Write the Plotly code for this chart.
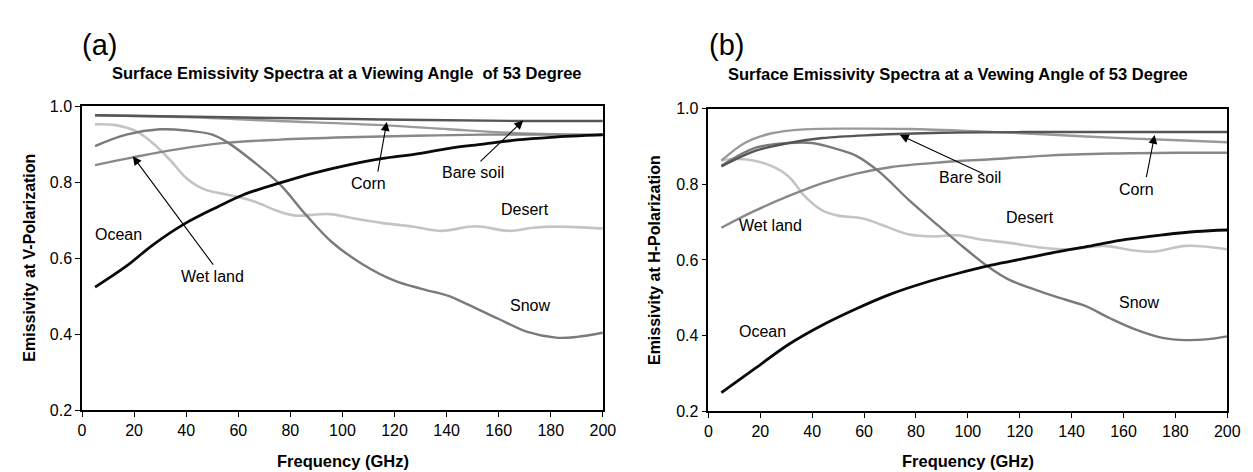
import plotly.graph_objects as go

# ---------------- data ----------------
# Panel (a): V-polarization
ocean_v_f = [5, 17, 27, 39, 52, 62, 76, 89, 102, 115, 128, 141, 154, 167, 180, 200]
ocean_v = [0.524, 0.579, 0.634, 0.689, 0.735, 0.767, 0.798, 0.824, 0.845, 0.862,
           0.874, 0.889, 0.900, 0.911, 0.918, 0.925]
wet_v_f = [5, 20, 37, 56, 76, 102, 128, 154, 200]
wet_v = [0.845, 0.866, 0.887, 0.904, 0.912, 0.918, 0.922, 0.925, 0.925]
bare_v_f = [5, 62, 115, 167, 200]
bare_v = [0.976, 0.970, 0.965, 0.961, 0.961]
corn_v_f = [5, 40, 75, 115, 141, 167, 200]
corn_v = [0.976, 0.971, 0.961, 0.950, 0.939, 0.929, 0.923]
desert_v_f = [5, 13, 21, 27, 34, 40, 47, 56, 65, 76, 82, 95, 104, 115, 128, 138,
              151, 164, 173, 182, 200]
desert_v = [0.952, 0.950, 0.933, 0.904, 0.857, 0.811, 0.781, 0.767, 0.752, 0.722,
            0.712, 0.716, 0.705, 0.693, 0.682, 0.672, 0.684, 0.672, 0.680, 0.683, 0.678]
snow_v_f = [5, 17, 30, 40, 50, 56, 66, 76, 86, 96, 108, 120, 130, 141, 147, 160,
            171, 182, 190, 200]
snow_v = [0.895, 0.925, 0.939, 0.936, 0.925, 0.904, 0.853, 0.794, 0.714, 0.642,
          0.583, 0.541, 0.520, 0.500, 0.482, 0.440, 0.406, 0.391, 0.393, 0.404]

# Panel (b): H-polarization
ocean_h_f = [5, 18, 31, 44, 57, 70, 83, 96, 109, 122, 135, 148, 161, 175, 188, 200]
ocean_h = [0.249, 0.313, 0.377, 0.428, 0.471, 0.509, 0.539, 0.564, 0.586, 0.604,
           0.622, 0.638, 0.654, 0.666, 0.675, 0.679]
wet_h_f = [5, 18, 31, 44, 57, 70, 90, 109, 129, 155, 181, 200]
wet_h = [0.685, 0.730, 0.769, 0.803, 0.828, 0.845, 0.858, 0.866, 0.875, 0.881, 0.883, 0.883]
bare_h_f = [5, 18, 31, 44, 63, 90, 129, 200]
bare_h = [0.847, 0.888, 0.909, 0.922, 0.930, 0.936, 0.938, 0.938]
corn_h_f = [5, 14, 24, 37, 57, 77, 103, 129, 155, 181, 200]
corn_h = [0.862, 0.909, 0.934, 0.945, 0.947, 0.946, 0.940, 0.932, 0.923, 0.916, 0.911]
desert_h_f = [5, 14, 24, 31, 37, 44, 50, 60, 67, 77, 87, 96, 105, 116, 129, 139,
              152, 165, 172, 184, 200]
desert_h = [0.864, 0.866, 0.849, 0.820, 0.769, 0.730, 0.717, 0.709, 0.692, 0.668,
            0.662, 0.665, 0.654, 0.645, 0.632, 0.628, 0.637, 0.624, 0.622, 0.637, 0.628]
snow_h_f = [5, 18, 31, 40, 50, 57, 66, 77, 87, 97, 108, 116, 124, 135, 145, 155,
            165, 175, 184, 192, 200]
snow_h = [0.849, 0.896, 0.909, 0.909, 0.892, 0.875, 0.832, 0.760, 0.700, 0.641,
          0.581, 0.547, 0.526, 0.500, 0.479, 0.445, 0.415, 0.394, 0.388, 0.390, 0.398]

x_ticks = [0, 20, 40, 60, 80, 100, 120, 140, 160, 180, 200]
y_ticks = [0.2, 0.4, 0.6, 0.8, 1.0]
y_ticklabels = ["0.2", "0.4", "0.6", "0.8", "1.0"]

title_a = "Surface Emissivity Spectra at a Viewing Angle&nbsp; of 53 Degree"
title_b = "Surface Emissivity Spectra at a Vewing Angle of 53 Degree"

# ---------------- figure ----------------
W, H = 1253, 472
FONT = "Liberation Sans, Arial, sans-serif"

def px_x(p):
    return p / W

def px_y(p):
    return 1 - p / H

fig = go.Figure()

styles = {
    "ocean": dict(color="#0a0a0a", width=2.8),
    "bare": dict(color="#555555", width=2.4),
    "corn": dict(color="#9a9a9a", width=2.4),
    "wet": dict(color="#888888", width=2.4),
    "snow": dict(color="#7a7a7a", width=2.4),
    "desert": dict(color="#c4c4c4", width=2.6),
}

series_a = [("desert", desert_v_f, desert_v), ("corn", corn_v_f, corn_v),
            ("wet", wet_v_f, wet_v), ("snow", snow_v_f, snow_v),
            ("bare", bare_v_f, bare_v), ("ocean", ocean_v_f, ocean_v)]
series_b = [("desert", desert_h_f, desert_h), ("corn", corn_h_f, corn_h),
            ("wet", wet_h_f, wet_h), ("snow", snow_h_f, snow_h),
            ("bare", bare_h_f, bare_h), ("ocean", ocean_h_f, ocean_h)]

for name, fx, fy in series_a:
    fig.add_trace(go.Scatter(x=fx, y=fy, mode="lines", name=name, showlegend=False,
                             line=dict(shape="spline", smoothing=1.0, **styles[name]),
                             xaxis="x", yaxis="y"))
for name, fx, fy in series_b:
    fig.add_trace(go.Scatter(x=fx, y=fy, mode="lines", name=name, showlegend=False,
                             line=dict(shape="spline", smoothing=1.0, **styles[name]),
                             xaxis="x2", yaxis="y2"))

axis_common = dict(showline=True, linecolor="black", linewidth=1.5, mirror=True,
                   ticks="outside", ticklen=5, tickwidth=1.2, tickcolor="black",
                   showgrid=False, zeroline=False,
                   tickfont=dict(family=FONT, size=16, color="black"))

fig.update_layout(
    width=W, height=H,
    margin=dict(l=0, r=0, t=0, b=0),
    paper_bgcolor="white", plot_bgcolor="white",
    xaxis=dict(domain=[px_x(71), px_x(599)], range=[0, 200], tickvals=x_ticks,
               anchor="y", **axis_common),
    yaxis=dict(domain=[px_y(409), px_y(93.5)], range=[0.2, 1.0], tickvals=y_ticks,
               ticktext=y_ticklabels, anchor="x", **axis_common),
    xaxis2=dict(domain=[px_x(706), px_x(1232)], range=[0, 200], tickvals=x_ticks,
                anchor="y2", **axis_common),
    yaxis2=dict(domain=[px_y(410), px_y(96)], range=[0.2, 1.0], tickvals=y_ticks,
                ticktext=y_ticklabels, anchor="x2", **axis_common),
)

ann = []

def text_ann(x, y, text, size=16, xref="paper", yref="paper", bold=False, angle=0):
    ann.append(dict(x=x, y=y, xref=xref, yref=yref, text=(f"<b>{text}</b>" if bold else text),
                    showarrow=False, textangle=angle, xanchor="center", yanchor="middle",
                    font=dict(family=FONT, size=size, color="black")))

def arrow_ann(tip, tail, xr, yr):
    ann.append(dict(x=tip[0], y=tip[1], ax=tail[0], ay=tail[1], xref=xr, yref=yr,
                    axref=xr, ayref=yr, text="", showarrow=True, arrowhead=2,
                    arrowsize=1.6, arrowwidth=1.1, arrowcolor="black"))

# panel letters and titles
text_ann(px_x(89), px_y(30), "(a)", size=29)
text_ann(px_x(724), px_y(30), "(b)", size=29)
text_ann(px_x(340), px_y(59), title_a, size=16.5, bold=True)
text_ann(px_x(959), px_y(60), title_b, size=16.5, bold=True)

# axis titles
text_ann(px_x(18), px_y(251), "Emissivity at V-Polarization", size=16, bold=True, angle=-90)
text_ann(px_x(652), px_y(253), "Emissivity at H-Polarization", size=16, bold=True, angle=-90)
text_ann(px_x(336), px_y(462), "Frequency (GHz)", size=16.5, bold=True)
text_ann(px_x(969), px_y(462), "Frequency (GHz)", size=16.5, bold=True)

# panel (a) labels
text_ann(110, 0.796, "Corn", xref="x", yref="y")
text_ann(150, 0.826, "Bare soil", xref="x", yref="y")
text_ann(170, 0.727, "Desert", xref="x", yref="y")
text_ann(14, 0.663, "Ocean", xref="x", yref="y")
text_ann(50, 0.551, "Wet land", xref="x", yref="y")
text_ann(172, 0.476, "Snow", xref="x", yref="y")
arrow_ann((117, 0.958), (113.5, 0.824), "x", "y")
arrow_ann((169.4, 0.962), (152.4, 0.851), "x", "y")
arrow_ann((19.5, 0.868), (50.8, 0.579), "x", "y")

# panel (b) labels
text_ann(101, 0.817, "Bare soil", xref="x2", yref="y2")
text_ann(165, 0.787, "Corn", xref="x2", yref="y2")
text_ann(124, 0.711, "Desert", xref="x2", yref="y2")
text_ann(24, 0.692, "Wet land", xref="x2", yref="y2")
text_ann(21, 0.411, "Ocean", xref="x2", yref="y2")
text_ann(166, 0.488, "Snow", xref="x2", yref="y2")
arrow_ann((73.8, 0.930), (106.5, 0.826), "x2", "y2")
arrow_ann((172, 0.930), (168.7, 0.815), "x2", "y2")

fig.update_layout(annotations=ann)

fig.write_html("out.html")
